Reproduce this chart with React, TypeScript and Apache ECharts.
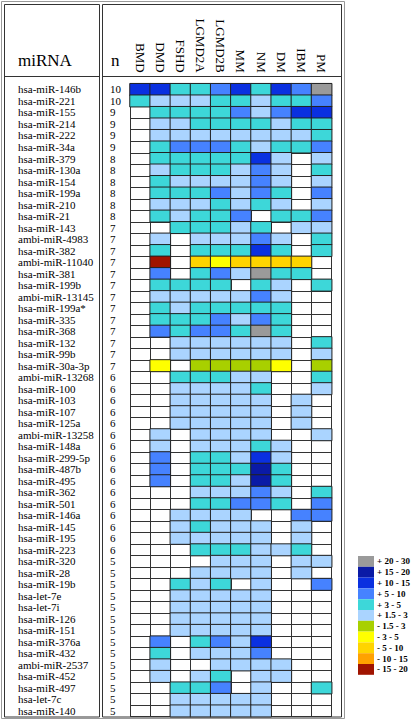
import React, { useEffect, useRef } from "react";
import * as echarts from "echarts";

const diseases = ["BMD", "DMD", "FSHD", "LGMD2A", "LGMD2B", "MM", "NM", "DM", "IBM", "PM"];

const mirnas = [
  "hsa-miR-146b", "hsa-miR-221", "hsa-miR-155", "hsa-miR-214", "hsa-miR-222", "hsa-miR-34a",
  "hsa-miR-379", "hsa-miR-130a", "hsa-miR-154", "hsa-miR-199a", "hsa-miR-210", "hsa-miR-21",
  "hsa-miR-143", "ambi-miR-4983", "hsa-miR-382", "ambi-miR-11040", "hsa-miR-381", "hsa-miR-199b",
  "ambi-miR-13145", "hsa-miR-199a*", "hsa-miR-335", "hsa-miR-368", "hsa-miR-132", "hsa-miR-99b",
  "hsa-miR-30a-3p", "ambi-miR-13268", "hsa-miR-100", "hsa-miR-103", "hsa-miR-107", "hsa-miR-125a",
  "ambi-miR-13258", "hsa-miR-148a", "hsa-miR-299-5p", "hsa-miR-487b", "hsa-miR-495", "hsa-miR-362",
  "hsa-miR-501", "hsa-miR-146a", "hsa-miR-145", "hsa-miR-195", "hsa-miR-223", "hsa-miR-320",
  "hsa-miR-28", "hsa-miR-19b", "hsa-let-7e", "hsa-let-7i", "hsa-miR-126", "hsa-miR-151",
  "hsa-miR-376a", "hsa-miR-432", "ambi-miR-2537", "hsa-miR-452", "hsa-miR-497", "hsa-let-7c",
  "hsa-miR-140",
];

const nCounts = [
  10, 10, 9, 9, 9, 9, 8, 8, 8, 8, 8, 8, 7, 7, 7, 7, 7, 7, 7, 7, 7, 7, 7, 7, 7,
  6, 6, 6, 6, 6, 6, 6, 6, 6, 6, 6, 6, 6, 6, 6, 6, 5, 5, 5, 5, 5, 5, 5, 5, 5, 5, 5, 5, 5, 5,
];

const _ = null;
// fold change per miRNA (rows) and disease (columns BMD..PM)
const foldChanges: (number | null)[][] = [
  [12, 12, 4, 4, 7, 12, 4, 12, 7, 25],
  [4, 2, 2, 2, 4, 4, 2, 4, 4, 7],
  [_, 4, 4, 4, 4, 7, 2, 7, 12, 12],
  [_, 2, 2, 4, 4, 4, 4, 2, 4, 4],
  [_, 2, 2, 2, 2, 2, 2, 2, 2, 4],
  [_, 4, 7, 7, 7, 4, 2, 4, 4, 7],
  [_, 4, 4, 4, 4, 4, 12, 2, _, 2],
  [_, 2, 4, 4, 4, 2, 7, 2, _, 4],
  [_, 4, 2, 2, 2, 2, 7, 2, _, 2],
  [_, 4, 4, 4, 7, 2, 7, 4, _, 7],
  [_, 2, 2, 2, 4, 2, 4, 2, _, 2],
  [_, 4, 2, 4, 4, 7, _, 4, 4, 7],
  [_, _, 4, 4, 4, 2, 4, _, 2, 2],
  [_, 2, _, 2, 2, 2, 7, 2, _, 4],
  [_, 4, _, 4, 4, 4, 12, 4, _, 4],
  [_, -17, _, -7, -4, -7, -7, -7, -7, _],
  [_, 7, _, 4, 7, 2, 25, 4, 4, _],
  [_, 4, 4, 4, 4, _, 4, 2, _, 4],
  [_, 2, 2, 2, 2, 2, 7, 2, _, _],
  [_, 4, 2, 4, 4, 4, 4, 4, _, _],
  [_, 4, 4, 4, 7, 2, 7, 4, _, _],
  [_, 7, 4, 7, 7, 4, 25, 4, _, _],
  [_, _, 2, 2, 2, 2, 2, 2, _, 4],
  [_, _, 2, 2, 2, 2, 2, 2, _, 2],
  [_, -4, _, -2, -2, -2, -2, -4, _, -2],
  [_, _, 4, 4, 4, 2, 2, _, _, 4],
  [_, _, 2, 2, 2, 2, 4, _, _, 2],
  [_, _, 2, 2, 2, 2, 2, _, 2, _],
  [_, _, 2, 2, 2, 2, 2, _, 2, _],
  [_, _, 2, 2, 2, 2, 2, _, 2, _],
  [_, 2, _, 2, 2, 2, 2, _, _, 2],
  [_, 2, _, 2, 2, 2, 4, 2, _, _],
  [_, 7, _, 4, 4, 2, 12, 2, _, _],
  [_, 7, _, 4, 4, 4, 17, 4, _, _],
  [_, 7, _, 4, 4, 2, 17, 4, _, _],
  [_, _, _, 2, 2, 2, 7, 2, _, 4],
  [_, _, _, 4, 4, 7, 7, 4, _, 7],
  [_, _, 2, 2, 2, 2, _, _, 7, 7],
  [_, _, 2, 4, 2, 2, 2, _, 2, _],
  [_, _, 2, 2, 2, 2, 2, _, 2, _],
  [_, _, _, 4, 4, 4, 2, 2, 4, _],
  [_, _, _, _, 2, 2, 2, _, 2, 2],
  [_, _, _, 2, 2, 2, 2, _, 2, _],
  [_, _, 4, 2, 4, _, 2, _, _, 7],
  [_, _, 2, 2, 2, 2, 2, _, _, _],
  [_, _, 2, 2, 2, 2, 2, _, _, _],
  [_, _, 2, 2, 2, 2, 2, _, _, _],
  [_, _, 2, 2, 2, 2, 2, _, _, _],
  [_, 7, _, 4, 7, 2, 12, _, _, _],
  [_, 4, _, 2, 2, 2, 7, _, _, _],
  [_, 2, _, _, 2, 2, 2, 2, _, _],
  [_, 2, _, 2, 4, _, 2, 2, _, _],
  [_, _, 4, 4, 7, _, 2, _, _, 4],
  [_, _, 2, 2, 2, 2, 2, _, _, _],
  [_, _, 2, 2, 2, 2, 2, _, _, _],
];

const legendLabels = [
  "+ 20 - 30", "+ 15 - 20", "+ 10 - 15", "+ 5 - 10", "+ 3 - 5", "+ 1.5 - 3",
  "- 1.5 - 3", "- 3 - 5", "- 5 - 10", "- 10 - 15", "- 15 - 20",
];
const legendMins = [20, 15, 10, 5, 3, 1.5, -3, -5, -10, -15, -20];
const legendMaxs = [30, 20, 15, 10, 5, 3, -1.5, -3, -5, -10, -15];
const legendColors = [
  "#9a9a9a", "#0a1aa6", "#0a30e0", "#4682ff", "#3dd7d9", "#aad4ff",
  "#a8d000", "#ffff00", "#ffd400", "#ffa200", "#a01400",
];

const SERIF = "'Liberation Serif', 'Times New Roman', serif";

export default function App() {
  const ref = useRef<HTMLDivElement>(null);

  useEffect(() => {
    if (!ref.current) return;
    const chart = echarts.init(ref.current, null, { renderer: "svg" });

    const data: [number, number, number][] = [];
    foldChanges.forEach((row, r) =>
      row.forEach((v, c) => {
        if (v !== null) data.push([c, r, v]);
      })
    );

    const gridLeft = 130;
    const gridTop = 83.7;
    const gridW = 201.7;
    const gridH = 633;

    const frame = "#333";
    const option: any = {
      animation: false,
      backgroundColor: "#fff",
      textStyle: { fontFamily: SERIF },
      grid: { left: gridLeft, top: gridTop, width: gridW, height: gridH, containLabel: false },
      xAxis: {
        type: "category",
        data: diseases,
        position: "top",
        axisLine: { show: false },
        axisTick: { show: false },
        axisLabel: { rotate: 90, margin: 11, fontFamily: SERIF, fontSize: 13, color: "#000", interval: 0 },
        splitLine: { show: true, interval: 0, lineStyle: { color: "#333", width: 1 } },
      },
      yAxis: [
        {
          type: "category",
          data: mirnas,
          inverse: true,
          axisLine: { show: false },
          axisTick: { show: false },
          axisLabel: { align: "left", margin: 112, fontFamily: SERIF, fontSize: 11, color: "#000", interval: 0 },
          splitLine: { show: true, interval: 0, lineStyle: { color: "#333", width: 1 } },
        },
        {
          type: "category",
          data: mirnas,
          inverse: true,
          position: "left",
          axisLine: { show: false },
          axisTick: { show: false },
          axisLabel: {
            align: "left",
            margin: 20,
            fontFamily: SERIF,
            fontSize: 11,
            color: "#000",
            interval: 0,
            formatter: (_v: string, i: number) => String(nCounts[i]),
          },
          splitLine: { show: false },
        },
      ],
      visualMap: {
        type: "piecewise",
        orient: "vertical",
        align: "left",
        left: 358,
        top: 556,
        padding: 0,
        itemWidth: 16,
        itemHeight: 10.8,
        itemGap: 0,
        textGap: 3,
        itemSymbol: "rect",
        seriesIndex: 0,
        textStyle: { fontFamily: SERIF, fontSize: 9, fontWeight: "bold", color: "#000" },
        pieces: legendLabels.map((label, i) => ({
          min: legendMins[i],
          max: legendMaxs[i],
          label,
          color: legendColors[i],
        })),
      },
      series: [
        {
          type: "heatmap",
          data,
          itemStyle: { borderColor: "#222", borderWidth: 1 },
          emphasis: { disabled: true },
        },
      ],
      graphic: [
        { type: "rect", shape: { x: 1.5, y: 1.5, width: 343, height: 717 }, style: { fill: "none", stroke: "#999", lineWidth: 1 }, silent: true },
        { type: "rect", shape: { x: 4.5, y: 4.5, width: 95, height: 712.5 }, style: { fill: "none", stroke: frame, lineWidth: 1 }, silent: true },
        { type: "rect", shape: { x: 102.5, y: 4.5, width: 239, height: 712.5 }, style: { fill: "none", stroke: frame, lineWidth: 1 }, silent: true },
        { type: "line", shape: { x1: 4.5, y1: 76.5, x2: 99.5, y2: 76.5 }, style: { stroke: frame, lineWidth: 1 }, silent: true },
        { type: "line", shape: { x1: 102.5, y1: 76.5, x2: 341.5, y2: 76.5 }, style: { stroke: frame, lineWidth: 1 }, silent: true },
        { type: "text", x: 18, y: 52, style: { text: "miRNA", font: `17px ${SERIF}`, fill: "#000", verticalAlign: "top" }, silent: true },
        { type: "text", x: 111, y: 52, style: { text: "n", font: `17px ${SERIF}`, fill: "#000", verticalAlign: "top" }, silent: true },
      ],
    };

    chart.setOption(option);
    return () => chart.dispose();
  }, []);

  return (
    <div
      ref={ref}
      style={{ position: "fixed", left: 0, top: 0, width: 416, height: 720, background: "#fff" }}
    />
  );
}
